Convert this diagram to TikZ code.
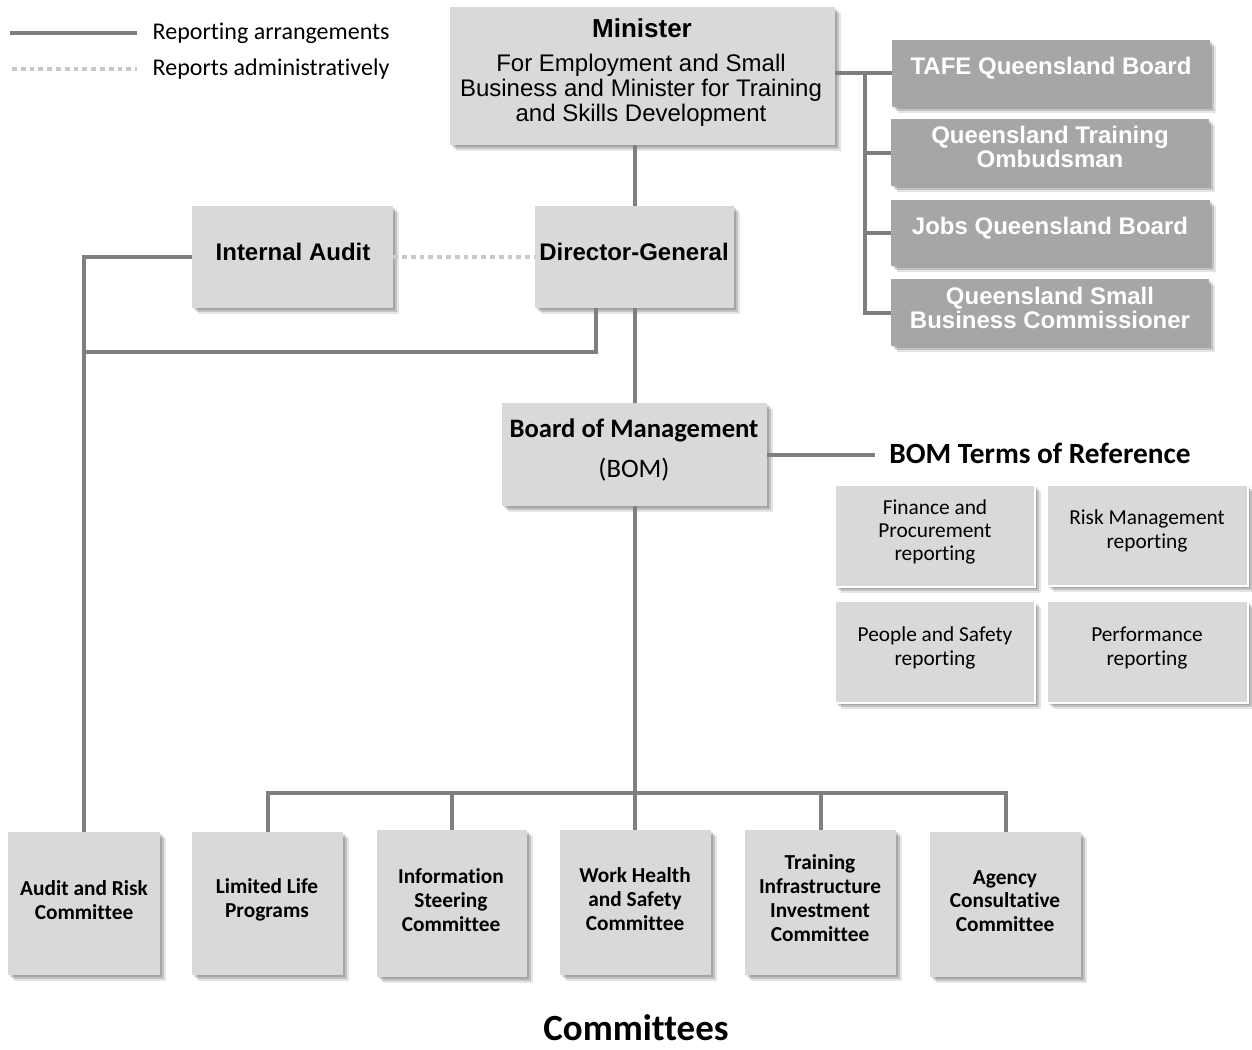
\documentclass[tikz,border=0pt]{standalone}
\usepackage{fontspec}
\setmainfont{Carlito}[Ligatures=NoCommon]
\newfontfamily\arialf{Liberation Sans}
\usetikzlibrary{shadows,fit}
\definecolor{boxgray}{HTML}{D9D9D9}
\definecolor{darkbox}{HTML}{A6A6A6}
\definecolor{linegray}{HTML}{7F7F7F}
\definecolor{dotgray}{HTML}{C8C8C8}
\begin{document}
\begin{tikzpicture}[x=0.75pt,y=-0.75pt,
 softshadow/.style={
   drop shadow={shadow xshift=1.5pt,shadow yshift=-1.5pt,fill=black,opacity=0.15},
   drop shadow={shadow xshift=3pt,shadow yshift=-3pt,fill=black,opacity=0.15},
   drop shadow={shadow xshift=4.5pt,shadow yshift=-4.5pt,fill=black,opacity=0.1}},
 lbox/.style={fill=boxgray, draw=none, inner sep=0pt, softshadow},
 dbox/.style={fill=darkbox, draw=none, inner sep=0pt, softshadow},
 tbox/.style={fill=boxgray, draw=white, line width=1.2pt, inner sep=0pt, softshadow},
 conn/.style={draw=linegray, line width=3pt},
 admin/.style={draw=dotgray, line width=3.6pt, dash pattern=on 3.6pt off 3pt},
 mtitle/.style={font=\arialf\bfseries\fontsize{19.5}{22}\selectfont},
 mbody/.style={font=\arialf\fontsize{18}{18.75}\selectfont, align=center},
 wtxt/.style={font=\arialf\bfseries\fontsize{18}{18}\selectfont, text=white, align=center},
 btxt/.style={font=\arialf\bfseries\fontsize{18}{20}\selectfont},
 bomb/.style={font=\bfseries\fontsize{20}{22}\selectfont},
 bomr/.style={font=\fontsize{20}{22}\selectfont},
 termtxt/.style={font=\fontsize{16}{17.5}\selectfont, align=center},
 comtxt/.style={font=\bfseries\fontsize{16}{17.8}\selectfont, align=center},
 legtxt/.style={font=\fontsize{18}{20}\selectfont, anchor=west},
 bigt/.style={font=\bfseries\fontsize{22}{24}\selectfont},
 hugeT/.style={font=\bfseries\fontsize{27.7}{30}\selectfont}
]
\fill[white] (0,0) rectangle (1252,1049);
\useasboundingbox (0,0) rectangle (1252,1049);

% legend
\coordinate (l1a) at (10,33); \coordinate (l1b) at (137,33);
\coordinate (l2a) at (12,69); \coordinate (l2b) at (137,69);
\draw[conn] (l1a) -- (l1b);
\draw[admin] (l2a) -- (l2b);
\node[legtxt] (leg1) at (148,33) {Reporting arrangements};
\node[legtxt] (leg2) at (148,69) {Reports administratively};

% minister
\node[lbox, fit={(450,7) (835,145)}] (min) {};
\node[mtitle] (minT) at (642,28) {Minister};
\node[mbody] (minB) at (641,90) {For Employment and Small\\Business and Minister for Training\\and Skills Development};

% right boxes
\node[dbox, fit={(892,40) (1210,107)}] (tafe) {};
\node[wtxt] (tafeT) at (1051,68) {TAFE Queensland Board};
\node[dbox, fit={(891,119) (1209,186)}] (qto) {};
\node[wtxt] (qtoT) at (1050,147) {Queensland Training\\Ombudsman};
\node[dbox, fit={(891,200) (1210,266)}] (jobs) {};
\node[wtxt] (jobsT) at (1050,228) {Jobs Queensland Board};
\node[dbox, fit={(891,279) (1209,346)}] (qsbc) {};
\node[wtxt] (qsbcT) at (1050,308) {Queensland Small\\Business Commissioner};

% internal audit, DG
\node[lbox, fit={(192,206) (393,308)}] (ia) {};
\node[btxt] (iaT) at (293,252) {Internal Audit};
\node[lbox, fit={(535,206) (734,308)}] (dg) {};
\node[btxt] (dgT) at (634,252) {Director-General};

% BOM
\node[lbox, fit={(502,403) (767,506)}] (bom) {};
\node[bomb] (bomA) at (634,430) {Board of Management};
\node[bomr] (bomB) at (634,470) {(BOM)};
\node[bigt] (bomT) at (1040,453) {BOM Terms of Reference};

% terms
\node[tbox, fit={(835,485) (1035,587)}] (fin) {};
\node[termtxt] (finT) at (935,532) {Finance and\\Procurement\\reporting};
\node[tbox, fit={(1047,485) (1248,586)}] (risk) {};
\node[termtxt] (riskT) at (1147,531) {Risk Management\\reporting};
\node[tbox, fit={(835,601) (1035,703)}] (ppl) {};
\node[termtxt] (pplT) at (935,648) {People and Safety\\reporting};
\node[tbox, fit={(1047,601) (1248,703)}] (perf) {};
\node[termtxt] (perfT) at (1147,648) {Performance\\reporting};

% committees
\node[lbox, fit={(8,832) (160,975)}] (arc) {};
\node[comtxt] (arcT) at (84,900) {Audit and Risk\\Committee};
\node[lbox, fit={(192,832) (343,975)}] (llp) {};
\node[comtxt] (llpT) at (267,900) {Limited Life\\Programs};
\node[lbox, fit={(377,830) (527,977)}] (isc) {};
\node[comtxt] (iscT) at (451,900) {Information\\Steering\\Committee};
\node[lbox, fit={(560,830) (711,975)}] (whs) {};
\node[comtxt] (whsT) at (635,899) {Work Health\\and Safety\\Committee};
\node[lbox, fit={(745,830) (896,975)}] (tiic) {};
\node[comtxt] (tiicT) at (820,898) {Training\\Infrastructure\\Investment\\Committee};
\node[lbox, fit={(930,832) (1081,977)}] (acc) {};
\node[comtxt] (accT) at (1005,901) {Agency\\Consultative\\Committee};

\node[hugeT] (comT) at (636,1028) {Committees};

% connectors
\draw[conn] (dg.north |- min.south) -- (dg.north);
\draw[conn] (min.east |- tafe.west) -- (tafe.west);
\coordinate (rb) at (865,0);
\draw[conn] (rb |- tafe.west) -- (rb |- qsbc.west) -- (qsbc.west);
\draw[conn] (rb |- qto.west) -- (qto.west);
\draw[conn] (rb |- jobs.west) -- (jobs.west);

\draw[admin] (ia.east) -- (dg.west);
\draw[conn] (ia.west) -| (arc.north);
\coordinate (j1) at (596,352);
\draw[conn] (j1 |- dg.south) -- (j1) -- (j1 -| arc.north);
\draw[conn] (dg.south) -- (bom.north);
\coordinate (bt) at (875,0);
\draw[conn] (bom.east) -- (bt |- bom.east);
\draw[conn] (bom.south) -- (bom.south |- whs.north);
\coordinate (cb) at (0,793);
\draw[conn] (llp.north) -- (llp.north |- cb) -- (acc.north |- cb) -- (acc.north);
\draw[conn] (isc.north) -- (isc.north |- cb);
\draw[conn] (tiic.north) -- (tiic.north |- cb);
\end{tikzpicture}
\end{document}
